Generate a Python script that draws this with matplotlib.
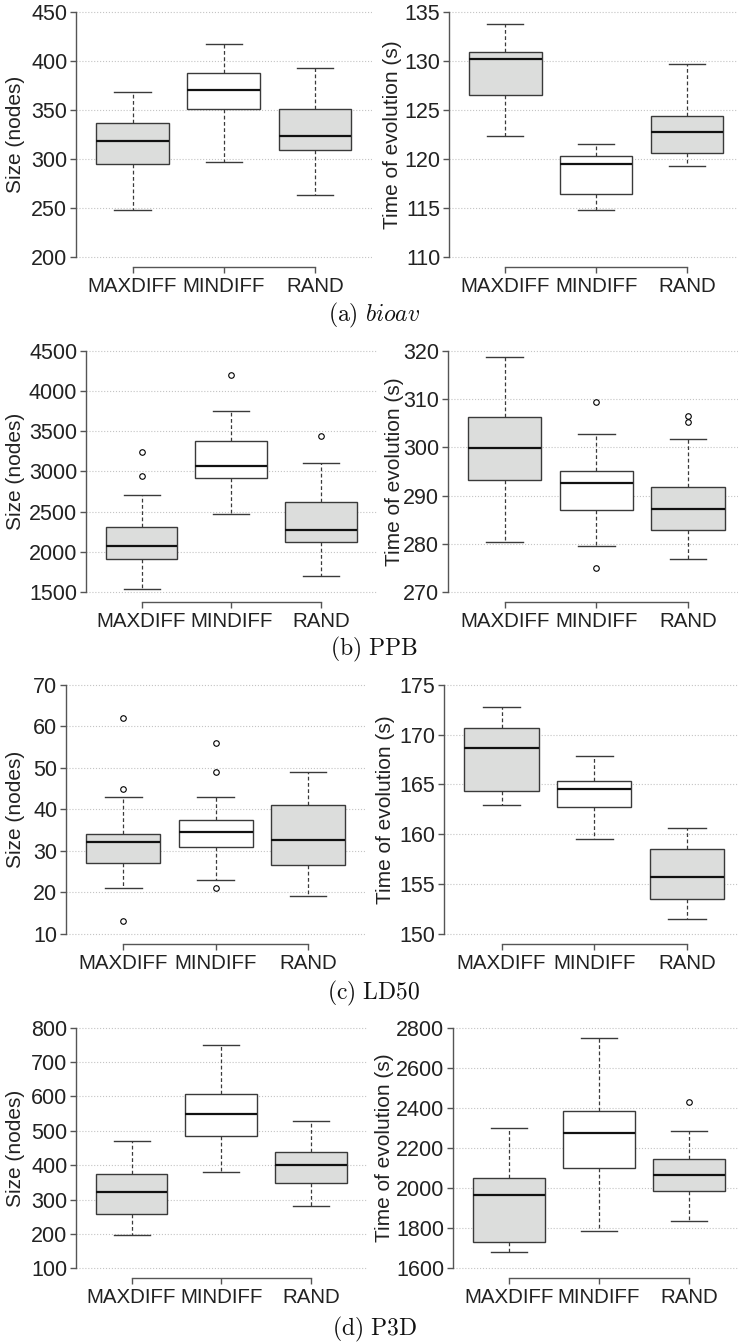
#!/usr/bin/env python3
"""Boxplots of tree size and evolution time for the three selection schemes."""

import matplotlib

matplotlib.use("Agg")
import matplotlib.pyplot as plt

W_PX, H_PX = 738, 1342

METHODS = ["MAXDIFF", "MINDIFF", "RAND"]
FILLS = ["#dcdddc", "#ffffff", "#dcdddc"]

# per method: lower whisker, Q1, median, Q3, upper whisker
BIOAV_SIZE = [[248, 294.6, 319, 336.4, 369], [297, 351.4, 371, 388, 418], [263, 309.6, 324, 350.7, 393]]
BIOAV_SIZE_OUT = [[], [], []]
BIOAV_TIME = [[122.4, 126.5, 130.2, 130.9, 133.8], [114.8, 116.4, 119.5, 120.3, 121.5],
              [119.3, 120.6, 122.8, 124.4, 129.7]]
BIOAV_TIME_OUT = [[], [], []]

PPB_SIZE = [[1545, 1914, 2071, 2311, 2712], [2472, 2919, 3072, 3383, 3755], [1707, 2125, 2270, 2625, 3101]]
PPB_SIZE_OUT = [[3246, 2948], [4194], [3437]]
PPB_TIME = [[280.4, 293.3, 299.9, 306.2, 318.6], [279.5, 287.1, 292.6, 295.0, 302.8],
            [276.8, 282.9, 287.2, 291.7, 301.7]]
PPB_TIME_OUT = [[], [309.4, 275.0], [306.5, 305.2]]

LD50_SIZE = [[21, 27, 32, 34, 43], [23, 31, 34.5, 37.5, 43], [19, 26.5, 32.5, 41, 49]]
LD50_SIZE_OUT = [[62, 45, 13], [56, 49, 21], []]
LD50_TIME = [[162.9, 164.3, 168.7, 170.7, 172.8], [159.5, 162.7, 164.5, 165.3, 167.9],
             [151.5, 153.5, 155.7, 158.5, 160.6]]
LD50_TIME_OUT = [[], [], []]

P3D_SIZE = [[197, 259, 323, 375, 471], [381, 485, 549, 607, 749], [280, 348, 400, 439, 530]]
P3D_SIZE_OUT = [[], [], []]
P3D_TIME = [[1683, 1733, 1967, 2052, 2298], [1785, 2098, 2273, 2383, 2747], [1837, 1985, 2065, 2145, 2287]]
P3D_TIME_OUT = [[], [], [2428]]

SIZE_TICKS = {
    "a": list(range(200, 451, 50)),
    "b": list(range(1500, 4501, 500)),
    "c": list(range(10, 71, 10)),
    "d": list(range(100, 801, 100)),
}
TIME_TICKS = {
    "a": list(range(110, 136, 5)),
    "b": list(range(270, 321, 10)),
    "c": list(range(150, 176, 5)),
    "d": list(range(1600, 2801, 200)),
}
CAPTIONS = {
    "a": r"$\mathrm{(a)}\ \mathit{bioav}$",
    "b": r"$\mathrm{(b)\ PPB}$",
    "c": r"$\mathrm{(c)\ LD50}$",
    "d": r"$\mathrm{(d)\ P3D}$",
}

# pixel layout: (spine x, RAND centre x, ylabel centre x) for left / right panel,
# plot region top / bottom, caption centre y
ROWS = {
    "a": ((76, 315, 16), (449, 687, 392), 2.5, 266.8, 315),
    "b": ((86, 321, 16), (448, 688, 394), 341.0, 602.0, 649),
    "c": ((66, 308, 16), (444, 687, 385), 675.0, 943.6, 993),
    "d": ((76, 311, 16), (453, 689, 385), 1018.1, 1277.9, 1329),
}

EDGE = "#3a3a3a"


def draw_panel(fig, cols, top, bottom, stats, fliers, ticks, ylabel):
    left, rand_x, lab_x = cols
    unit = (rand_x - left) / (3 - 0.38)
    width = unit * 3.24
    ax = fig.add_axes([left / W_PX, 1 - bottom / H_PX, width / W_PX, (bottom - top) / H_PX])

    boxes = [
        dict(whislo=s[0], q1=s[1], med=s[2], q3=s[3], whishi=s[4], fliers=f, label=m)
        for s, f, m in zip(stats, fliers, METHODS)
    ]
    art = ax.bxp(
        boxes,
        positions=[1, 2, 3],
        widths=0.8,
        capwidths=0.4,
        patch_artist=True,
        showfliers=True,
        boxprops=dict(edgecolor=EDGE, linewidth=1.0),
        medianprops=dict(color="#111111", linewidth=1.6),
        whiskerprops=dict(color=EDGE, linewidth=0.9, linestyle=(0, (3, 2))),
        capprops=dict(color=EDGE, linewidth=1.0),
        flierprops=dict(marker="o", markersize=4, markerfacecolor="none",
                        markeredgecolor="black", markeredgewidth=0.8),
    )
    for patch, color in zip(art["boxes"], FILLS):
        patch.set_facecolor(color)

    lo, hi = ticks[0], ticks[-1]
    pad = 0.04 * (hi - lo)
    ax.set_xlim(0.38, 3.62)
    ax.set_ylim(lo - pad, hi + pad)
    ax.set_yticks(ticks)
    ax.set_xticks([1, 2, 3])
    ax.set_xticklabels(METHODS)

    ax.set_axisbelow(True)
    ax.yaxis.grid(True, linestyle=":", color="#c4c4c4", linewidth=0.8)
    ax.xaxis.grid(False)

    for side in ("top", "right"):
        ax.spines[side].set_visible(False)
    ax.spines["left"].set_bounds(lo, hi)
    ax.spines["bottom"].set_bounds(1, 3)
    for side in ("left", "bottom"):
        ax.spines[side].set_color("#555555")
        ax.spines[side].set_linewidth(1.0)

    ax.tick_params(direction="out", length=4.3, width=1.0, color="#555555",
                   labelcolor="#222222", pad=2)
    ax.tick_params(axis="y", labelsize=15.5)
    ax.tick_params(axis="x", labelsize=14.8, pad=3)

    ax.set_ylabel(ylabel, fontsize=15, color="#222222", va="center")
    ax.yaxis.set_label_coords((lab_x - left) / width, 0.5)
    return ax


def main():
    plt.rcParams.update({
        "font.family": "Liberation Sans",
        "mathtext.fontset": "cm",
    })
    fig = plt.figure(figsize=(W_PX / 100, H_PX / 100), dpi=100)

    data = {
        "a": (BIOAV_SIZE, BIOAV_SIZE_OUT, BIOAV_TIME, BIOAV_TIME_OUT),
        "b": (PPB_SIZE, PPB_SIZE_OUT, PPB_TIME, PPB_TIME_OUT),
        "c": (LD50_SIZE, LD50_SIZE_OUT, LD50_TIME, LD50_TIME_OUT),
        "d": (P3D_SIZE, P3D_SIZE_OUT, P3D_TIME, P3D_TIME_OUT),
    }

    for key, (lcols, rcols, top, bottom, cap_y) in ROWS.items():
        size, size_out, time, time_out = data[key]
        draw_panel(fig, lcols, top, bottom, size, size_out, SIZE_TICKS[key], "Size (nodes)")
        draw_panel(fig, rcols, top, bottom, time, time_out, TIME_TICKS[key], "Time of evolution (s)")
        fig.text(374 / W_PX, 1 - cap_y / H_PX, CAPTIONS[key], fontsize=17,
                 ha="center", va="center", color="#111111")

    fig.savefig("out.png", dpi=100)


if __name__ == "__main__":
    main()
